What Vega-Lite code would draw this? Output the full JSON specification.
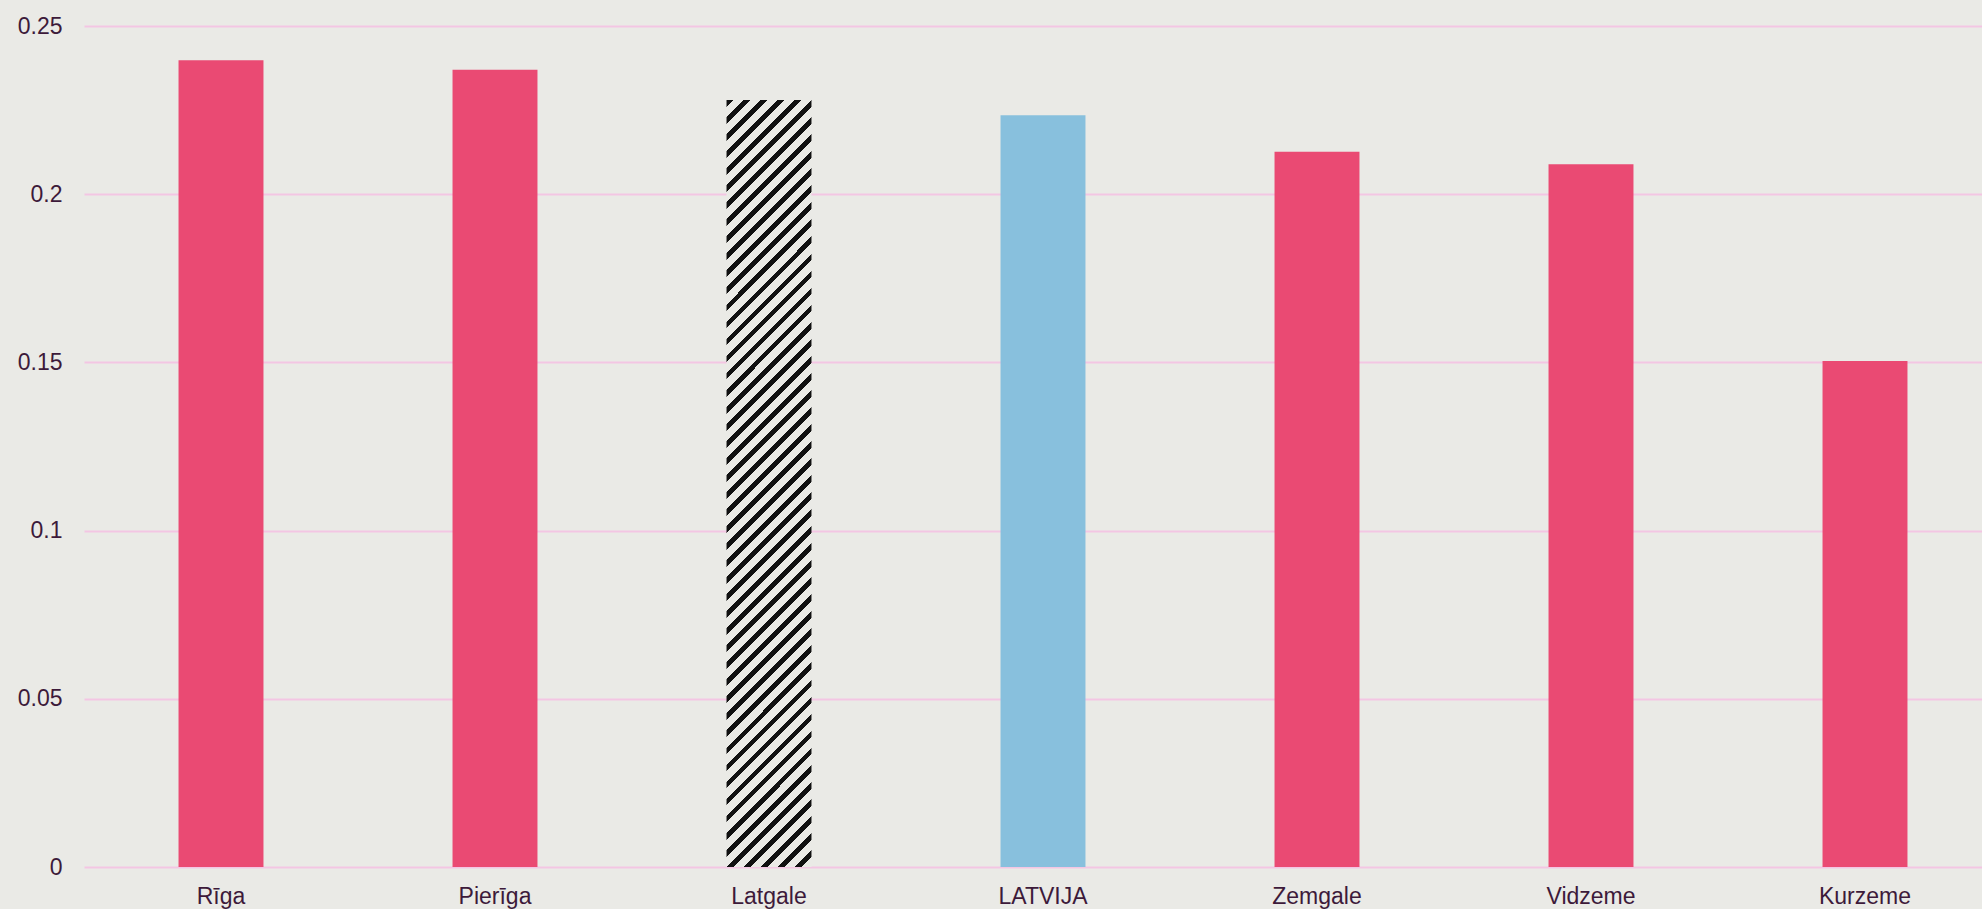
{
  "$schema": "https://vega.github.io/schema/vega-lite/v6.json",
  "width": 1898,
  "height": 841,
  "autosize": {"type": "none"},
  "padding": {"left": 84, "top": 26, "right": 0, "bottom": 42},
  "background": "#EAEAE6",
  "config": {
    "view": {"stroke": null},
    "font": "Liberation Sans",
    "axis": {"labelFont": "Liberation Sans", "labelFontSize": 23, "labelColor": "#3D1A3A", "domain": false, "ticks": false}
  },
  "data": {"values": [
    {"region": "Rīga", "value": 0.2398, "group": "reģions"},
    {"region": "Pierīga", "value": 0.2370, "group": "reģions"},
    {"region": "Latgale", "value": 0.2280, "group": "svītrots"},
    {"region": "LATVIJA", "value": 0.2235, "group": "valsts"},
    {"region": "Zemgale", "value": 0.2126, "group": "reģions"},
    {"region": "Vidzeme", "value": 0.2089, "group": "reģions"},
    {"region": "Kurzeme", "value": 0.1504, "group": "reģions"}
  ]},
  "encoding": {
    "x": {"field": "region", "type": "nominal", "sort": null,
      "scale": {"domain": ["Rīga", "Pierīga", "Latgale", "LATVIJA", "Zemgale", "Vidzeme", "Kurzeme"], "range": [0, 1918], "paddingInner": 0.69, "paddingOuter": 0.345},
      "axis": {"title": null, "labelAngle": 0, "labelPadding": 18, "grid": false}},
    "y": {"field": "value", "type": "quantitative",
      "scale": {"domain": [0, 0.25]},
      "axis": {"title": null, "values": [0, 0.05, 0.1, 0.15, 0.2, 0.25], "format": ".2~f", "labelPadding": 22, "grid": true, "gridColor": "#F3C6E3", "gridWidth": 2}}
  },
  "layer": [
    {
      "transform": [{"filter": "datum.group !== 'svītrots'"}],
      "mark": {"type": "bar", "stroke": null},
      "encoding": {
        "color": {"field": "group", "type": "nominal", "legend": null,
          "scale": {"domain": ["reģions", "valsts"], "range": ["#EA4A73", "#88C0DD"]}}
      }
    },
    {
      "transform": [{"filter": "datum.group === 'svītrots'"}],
      "mark": {"type": "bar", "color": {"gradient": "linear", "x1": 0, "y1": 0, "x2": 0.1216, "y2": 1.0973, "stops": [
{"offset":0.00,"color":"#111"},{"offset":0.008,"color":"#111"},{"offset":0.008,"color":"#eaeae6"},{"offset":0.02,"color":"#eaeae6"},
{"offset":0.02,"color":"#111"},{"offset":0.028,"color":"#111"},{"offset":0.028,"color":"#eaeae6"},{"offset":0.04,"color":"#eaeae6"},
{"offset":0.04,"color":"#111"},{"offset":0.048,"color":"#111"},{"offset":0.048,"color":"#eaeae6"},{"offset":0.06,"color":"#eaeae6"},
{"offset":0.06,"color":"#111"},{"offset":0.068,"color":"#111"},{"offset":0.068,"color":"#eaeae6"},{"offset":0.08,"color":"#eaeae6"},
{"offset":0.08,"color":"#111"},{"offset":0.088,"color":"#111"},{"offset":0.088,"color":"#eaeae6"},{"offset":0.10,"color":"#eaeae6"},
{"offset":0.10,"color":"#111"},{"offset":0.108,"color":"#111"},{"offset":0.108,"color":"#eaeae6"},{"offset":0.12,"color":"#eaeae6"},
{"offset":0.12,"color":"#111"},{"offset":0.128,"color":"#111"},{"offset":0.128,"color":"#eaeae6"},{"offset":0.14,"color":"#eaeae6"},
{"offset":0.14,"color":"#111"},{"offset":0.148,"color":"#111"},{"offset":0.148,"color":"#eaeae6"},{"offset":0.16,"color":"#eaeae6"},
{"offset":0.16,"color":"#111"},{"offset":0.168,"color":"#111"},{"offset":0.168,"color":"#eaeae6"},{"offset":0.18,"color":"#eaeae6"},
{"offset":0.18,"color":"#111"},{"offset":0.188,"color":"#111"},{"offset":0.188,"color":"#eaeae6"},{"offset":0.20,"color":"#eaeae6"},
{"offset":0.20,"color":"#111"},{"offset":0.208,"color":"#111"},{"offset":0.208,"color":"#eaeae6"},{"offset":0.22,"color":"#eaeae6"},
{"offset":0.22,"color":"#111"},{"offset":0.228,"color":"#111"},{"offset":0.228,"color":"#eaeae6"},{"offset":0.24,"color":"#eaeae6"},
{"offset":0.24,"color":"#111"},{"offset":0.248,"color":"#111"},{"offset":0.248,"color":"#eaeae6"},{"offset":0.26,"color":"#eaeae6"},
{"offset":0.26,"color":"#111"},{"offset":0.268,"color":"#111"},{"offset":0.268,"color":"#eaeae6"},{"offset":0.28,"color":"#eaeae6"},
{"offset":0.28,"color":"#111"},{"offset":0.288,"color":"#111"},{"offset":0.288,"color":"#eaeae6"},{"offset":0.30,"color":"#eaeae6"},
{"offset":0.30,"color":"#111"},{"offset":0.308,"color":"#111"},{"offset":0.308,"color":"#eaeae6"},{"offset":0.32,"color":"#eaeae6"},
{"offset":0.32,"color":"#111"},{"offset":0.328,"color":"#111"},{"offset":0.328,"color":"#eaeae6"},{"offset":0.34,"color":"#eaeae6"},
{"offset":0.34,"color":"#111"},{"offset":0.348,"color":"#111"},{"offset":0.348,"color":"#eaeae6"},{"offset":0.36,"color":"#eaeae6"},
{"offset":0.36,"color":"#111"},{"offset":0.368,"color":"#111"},{"offset":0.368,"color":"#eaeae6"},{"offset":0.38,"color":"#eaeae6"},
{"offset":0.38,"color":"#111"},{"offset":0.388,"color":"#111"},{"offset":0.388,"color":"#eaeae6"},{"offset":0.40,"color":"#eaeae6"},
{"offset":0.40,"color":"#111"},{"offset":0.408,"color":"#111"},{"offset":0.408,"color":"#eaeae6"},{"offset":0.42,"color":"#eaeae6"},
{"offset":0.42,"color":"#111"},{"offset":0.428,"color":"#111"},{"offset":0.428,"color":"#eaeae6"},{"offset":0.44,"color":"#eaeae6"},
{"offset":0.44,"color":"#111"},{"offset":0.448,"color":"#111"},{"offset":0.448,"color":"#eaeae6"},{"offset":0.46,"color":"#eaeae6"},
{"offset":0.46,"color":"#111"},{"offset":0.468,"color":"#111"},{"offset":0.468,"color":"#eaeae6"},{"offset":0.48,"color":"#eaeae6"},
{"offset":0.48,"color":"#111"},{"offset":0.488,"color":"#111"},{"offset":0.488,"color":"#eaeae6"},{"offset":0.50,"color":"#eaeae6"},
{"offset":0.50,"color":"#111"},{"offset":0.508,"color":"#111"},{"offset":0.508,"color":"#eaeae6"},{"offset":0.52,"color":"#eaeae6"},
{"offset":0.52,"color":"#111"},{"offset":0.528,"color":"#111"},{"offset":0.528,"color":"#eaeae6"},{"offset":0.54,"color":"#eaeae6"},
{"offset":0.54,"color":"#111"},{"offset":0.548,"color":"#111"},{"offset":0.548,"color":"#eaeae6"},{"offset":0.56,"color":"#eaeae6"},
{"offset":0.56,"color":"#111"},{"offset":0.568,"color":"#111"},{"offset":0.568,"color":"#eaeae6"},{"offset":0.58,"color":"#eaeae6"},
{"offset":0.58,"color":"#111"},{"offset":0.588,"color":"#111"},{"offset":0.588,"color":"#eaeae6"},{"offset":0.60,"color":"#eaeae6"},
{"offset":0.60,"color":"#111"},{"offset":0.608,"color":"#111"},{"offset":0.608,"color":"#eaeae6"},{"offset":0.62,"color":"#eaeae6"},
{"offset":0.62,"color":"#111"},{"offset":0.628,"color":"#111"},{"offset":0.628,"color":"#eaeae6"},{"offset":0.64,"color":"#eaeae6"},
{"offset":0.64,"color":"#111"},{"offset":0.648,"color":"#111"},{"offset":0.648,"color":"#eaeae6"},{"offset":0.66,"color":"#eaeae6"},
{"offset":0.66,"color":"#111"},{"offset":0.668,"color":"#111"},{"offset":0.668,"color":"#eaeae6"},{"offset":0.68,"color":"#eaeae6"},
{"offset":0.68,"color":"#111"},{"offset":0.688,"color":"#111"},{"offset":0.688,"color":"#eaeae6"},{"offset":0.70,"color":"#eaeae6"},
{"offset":0.70,"color":"#111"},{"offset":0.708,"color":"#111"},{"offset":0.708,"color":"#eaeae6"},{"offset":0.72,"color":"#eaeae6"},
{"offset":0.72,"color":"#111"},{"offset":0.728,"color":"#111"},{"offset":0.728,"color":"#eaeae6"},{"offset":0.74,"color":"#eaeae6"},
{"offset":0.74,"color":"#111"},{"offset":0.748,"color":"#111"},{"offset":0.748,"color":"#eaeae6"},{"offset":0.76,"color":"#eaeae6"},
{"offset":0.76,"color":"#111"},{"offset":0.768,"color":"#111"},{"offset":0.768,"color":"#eaeae6"},{"offset":0.78,"color":"#eaeae6"},
{"offset":0.78,"color":"#111"},{"offset":0.788,"color":"#111"},{"offset":0.788,"color":"#eaeae6"},{"offset":0.80,"color":"#eaeae6"},
{"offset":0.80,"color":"#111"},{"offset":0.808,"color":"#111"},{"offset":0.808,"color":"#eaeae6"},{"offset":0.82,"color":"#eaeae6"},
{"offset":0.82,"color":"#111"},{"offset":0.828,"color":"#111"},{"offset":0.828,"color":"#eaeae6"},{"offset":0.84,"color":"#eaeae6"},
{"offset":0.84,"color":"#111"},{"offset":0.848,"color":"#111"},{"offset":0.848,"color":"#eaeae6"},{"offset":0.86,"color":"#eaeae6"},
{"offset":0.86,"color":"#111"},{"offset":0.868,"color":"#111"},{"offset":0.868,"color":"#eaeae6"},{"offset":0.88,"color":"#eaeae6"},
{"offset":0.88,"color":"#111"},{"offset":0.888,"color":"#111"},{"offset":0.888,"color":"#eaeae6"},{"offset":0.90,"color":"#eaeae6"},
{"offset":0.90,"color":"#111"},{"offset":0.908,"color":"#111"},{"offset":0.908,"color":"#eaeae6"},{"offset":0.92,"color":"#eaeae6"},
{"offset":0.92,"color":"#111"},{"offset":0.928,"color":"#111"},{"offset":0.928,"color":"#eaeae6"},{"offset":0.94,"color":"#eaeae6"},
{"offset":0.94,"color":"#111"},{"offset":0.948,"color":"#111"},{"offset":0.948,"color":"#eaeae6"},{"offset":0.96,"color":"#eaeae6"},
{"offset":0.96,"color":"#111"},{"offset":0.968,"color":"#111"},{"offset":0.968,"color":"#eaeae6"},{"offset":0.98,"color":"#eaeae6"},
{"offset":0.98,"color":"#111"},{"offset":0.988,"color":"#111"},{"offset":0.988,"color":"#eaeae6"},{"offset":1.0,"color":"#eaeae6"}
      ]}}
    }
  ]
}
